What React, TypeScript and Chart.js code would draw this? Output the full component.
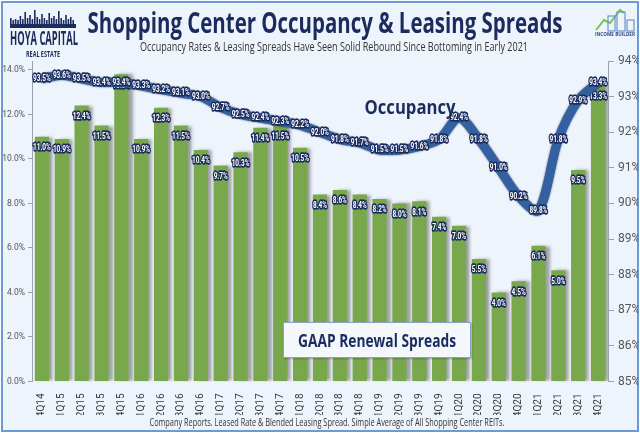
import React, { useEffect, useRef } from "react";
import { Chart, registerables } from "chart.js";

Chart.register(...registerables);

// ---------- data ----------
const quarters = [
  "4Q14", "1Q15", "2Q15", "3Q15", "4Q15", "1Q16", "2Q16", "3Q16", "4Q16",
  "1Q17", "2Q17", "3Q17", "4Q17", "1Q18", "2Q18", "3Q18", "4Q18",
  "1Q19", "2Q19", "3Q19", "4Q19", "1Q20", "2Q20", "3Q20", "4Q20",
  "1Q21", "2Q21", "3Q21", "4Q21",
];
const renewalSpreads = [
  11.0, 10.9, 12.4, 11.5, 13.8, 10.9, 12.3, 11.5, 10.4,
  9.7, 10.3, 11.4, 11.5, 10.5, 8.4, 8.6, 8.4,
  8.2, 8.0, 8.1, 7.4, 7.0, 5.5, 4.0, 4.5,
  6.1, 5.0, 9.5, 13.3,
];
const occupancy = [
  93.5, 93.6, 93.5, 93.4, 93.4, 93.3, 93.2, 93.1, 93.0,
  92.7, 92.5, 92.4, 92.3, 92.2, 92.0, 91.8, 91.7,
  91.5, 91.5, 91.6, 91.8, 92.4, 91.8, 91.0, 90.2,
  89.8, 91.8, 92.9, 93.4,
];
const spreadTicks = [0, 2, 4, 6, 8, 10, 12, 14];
const occupancyTicks = [85, 86, 87, 88, 89, 90, 91, 92, 93, 94];

// ---------- style ----------
const NAVY = "#1b2b5e";
const GREEN = "#78a84b";
const LINE_BLUE = "#3260a0";
const BG = "#eef4fb";

const measureCtx: CanvasRenderingContext2D | null =
  typeof document !== "undefined" ? document.createElement("canvas").getContext("2d") : null;

function fitScale(text: string, font: string, width: number) {
  if (!measureCtx) return 1;
  measureCtx.font = font;
  const w = measureCtx.measureText(text).width;
  return w > 0 ? width / w : 1;
}

function FitText(props: {
  text: string; font: string; color: string; cx: number; cy: number; width: number;
}) {
  const { text, font, color, cx, cy, width } = props;
  const k = fitScale(text, font, width);
  return (
    <div
      style={{
        position: "absolute", left: cx, top: cy, font, color, lineHeight: 1,
        whiteSpace: "nowrap", transform: `translate(-50%,-50%) scaleX(${k})`,
      }}
    >
      {text}
    </div>
  );
}

const valueLabels = {
  id: "valueLabels",
  beforeDatasetDraw(chart: any, args: any) {
    const ctx = chart.ctx;
    ctx.save();
    if (args.index === 0) {
      ctx.shadowColor = "rgba(80,80,80,0.5)";
      ctx.shadowOffsetX = 4;
      ctx.shadowOffsetY = 0;
      ctx.shadowBlur = 3;
    } else {
      ctx.shadowColor = "rgba(15,30,70,0.9)";
      ctx.shadowBlur = 2;
    }
  },
  afterDatasetDraw(chart: any, args: any) {
    const ctx = chart.ctx;
    ctx.restore();
    const data = chart.data.datasets[args.index].data as number[];
    ctx.save();
    ctx.font = "bold 9.5px Roboto";
    ctx.textAlign = "center";
    ctx.textBaseline = "middle";
    ctx.lineJoin = "round";
    args.meta.data.forEach((el: any, i: number) => {
      const txt = data[i].toFixed(1) + "%";
      const x = el.x;
      const y = args.index === 0 ? el.y + 11 : el.y;
      ctx.save();
      ctx.translate(x, y);
      ctx.scale(0.68, 1);
      ctx.strokeStyle = NAVY;
      ctx.lineWidth = 3.5;
      ctx.strokeText(txt, 0, 0);
      ctx.fillStyle = "#ffffff";
      ctx.fillText(txt, 0, 0);
      ctx.restore();
    });
    ctx.restore();
  },
};

function ChartCanvas() {
  const ref = useRef<HTMLCanvasElement | null>(null);
  useEffect(() => {
    if (!ref.current) return;
    const chart = new Chart(ref.current, {
      type: "bar",
      data: {
        labels: quarters,
        datasets: [
          {
            type: "bar",
            label: "GAAP Renewal Spreads",
            data: renewalSpreads,
            backgroundColor: GREEN,
            borderWidth: 0,
            yAxisID: "y",
            order: 2,
            barPercentage: 0.72,
            categoryPercentage: 1,
          } as any,
          {
            type: "line",
            label: "Occupancy",
            data: occupancy,
            borderColor: LINE_BLUE,
            borderWidth: 9,
            pointRadius: 0,
            tension: 0.3,
            fill: false,
            yAxisID: "y2",
            order: 1,
          } as any,
        ],
      },
      options: {
        animation: false,
        responsive: false,
        layout: { padding: { left: 2, right: 2, top: 61, bottom: 20 } },
        plugins: { legend: { display: false }, tooltip: { enabled: false } },
        scales: {
          x: {
            grid: { display: false },
            border: { display: false },
            ticks: {
              minRotation: 90, maxRotation: 90, autoSkip: false, padding: 4,
              color: "#3a3a3a", font: { family: "Roboto", size: 10 },
            },
            afterFit: (s: any) => { s.height = 33.5; },
          },
          y: {
            position: "left",
            min: 0,
            max: 14.4,
            afterBuildTicks: (s: any) => { s.ticks = spreadTicks.map((v) => ({ value: v })); },
            ticks: {
              color: "#555", padding: 3, font: { family: "Roboto", size: 8.5 },
              callback: (v: any) => Number(v).toFixed(1) + "%",
            },
            grid: { drawOnChartArea: false, drawTicks: true, tickLength: 4, color: "#9aa3ad" },
            border: { display: true, color: "#9aa3ad" },
            afterFit: (s: any) => { s.width = 30; },
          },
          y2: {
            position: "right",
            min: 85,
            max: 94,
            afterBuildTicks: (s: any) => { s.ticks = occupancyTicks.map((v) => ({ value: v })); },
            ticks: {
              color: "#555", padding: 4, font: { family: "Roboto", size: 12 },
              callback: (v: any) => v + "%",
            },
            grid: { drawOnChartArea: false, drawTicks: true, tickLength: 6, color: "#9aa3ad" },
            border: { display: true, color: "#9aa3ad" },
            afterFit: (s: any) => { s.width = 30; },
          },
        },
      },
      plugins: [valueLabels],
    } as any);
    return () => chart.destroy();
  }, []);
  return (
    <canvas ref={ref} width={640} height={435}
      style={{ position: "absolute", left: 0, top: 0, width: 640, height: 435 }} />
  );
}

function Skyline() {
  const heights = [6, 4, 5, 4, 8, 5, 12, 6, 9, 5, 14, 7, 5, 10, 6, 4, 11, 6, 8, 5, 13, 6, 4, 9, 5, 7, 4];
  return (
    <svg width={66} height={18} style={{ position: "absolute", left: 10, top: 10 }}>
      <rect x={0} y={14} width={66} height={4} fill={NAVY} />
      {heights.map((h, i) => (
        <rect key={i} x={i * 2.4} y={18 - 4 - h} width={1.6} height={h} fill={NAVY} />
      ))}
    </svg>
  );
}

function IncomeBuilderLogo() {
  return (
    <svg width={44} height={26} style={{ position: "absolute", left: 594, top: 6 }}>
      <polyline points="2,24 10,14 16,17 26,4 30,7" fill="none" stroke="#7cc24a" strokeWidth={2} />
      <rect x={14} y={10} width={7} height={15} fill="none" stroke="#6f93c8" strokeWidth={1.2} />
      <rect x={23} y={6} width={8} height={19} fill="none" stroke="#6f93c8" strokeWidth={1.2} />
      <rect x={33} y={14} width={7} height={11} fill="none" stroke="#6f93c8" strokeWidth={1.2} />
    </svg>
  );
}

export default function App() {
  return (
    <div style={{ position: "fixed", left: 0, top: 0, width: 640, height: 435, background: "#ffffff", overflow: "hidden" }}>
      <div style={{
        position: "absolute", left: 1, top: 1, width: 634, height: 427,
        border: "2px solid #6b9bd6", background: BG,
      }} />
      <ChartCanvas />
      <Skyline />
      <FitText text="HOYA CAPITAL" font='700 20px "Open Sans"' color={NAVY} cx={44} cy={38} width={68} />
      <FitText text="REAL ESTATE" font='700 9px "Open Sans"' color={NAVY} cx={43} cy={53} width={34} />
      <IncomeBuilderLogo />
      <FitText text="INCOME BUILDER" font='700 6px "Open Sans"' color="#2b4a86" cx={615} cy={34} width={40} />
      <FitText text="Shopping Center Occupancy & Leasing Spreads" font='700 28px "Open Sans"' color={NAVY} cx={325} cy={22} width={475} />
      <FitText text="Occupancy Rates & Leasing Spreads Have Seen Solid Rebound Since Bottoming in Early 2021" font='400 12px "Open Sans"' color="#333" cx={334} cy={47} width={388} />
      <FitText text="Occupancy" font='700 20px "Open Sans"' color={NAVY} cx={410} cy={107} width={91} />
      <div style={{
        position: "absolute", left: 283, top: 322, width: 188, height: 36,
        background: "#f4f7fc", border: "1px solid #8ea3c2", boxSizing: "border-box",
        boxShadow: "1px 1px 2px rgba(0,0,0,0.25)",
      }} />
      <FitText text="GAAP Renewal Spreads" font='700 17px "Open Sans"' color={NAVY} cx={377} cy={340} width={158} />
      <FitText text="Company Reports. Leased Rate & Blended Leasing Spread. Simple Average of All Shopping Center REITs." font='400 10px "Open Sans"' color="#333" cx={327} cy={422} width={355} />
    </div>
  );
}
